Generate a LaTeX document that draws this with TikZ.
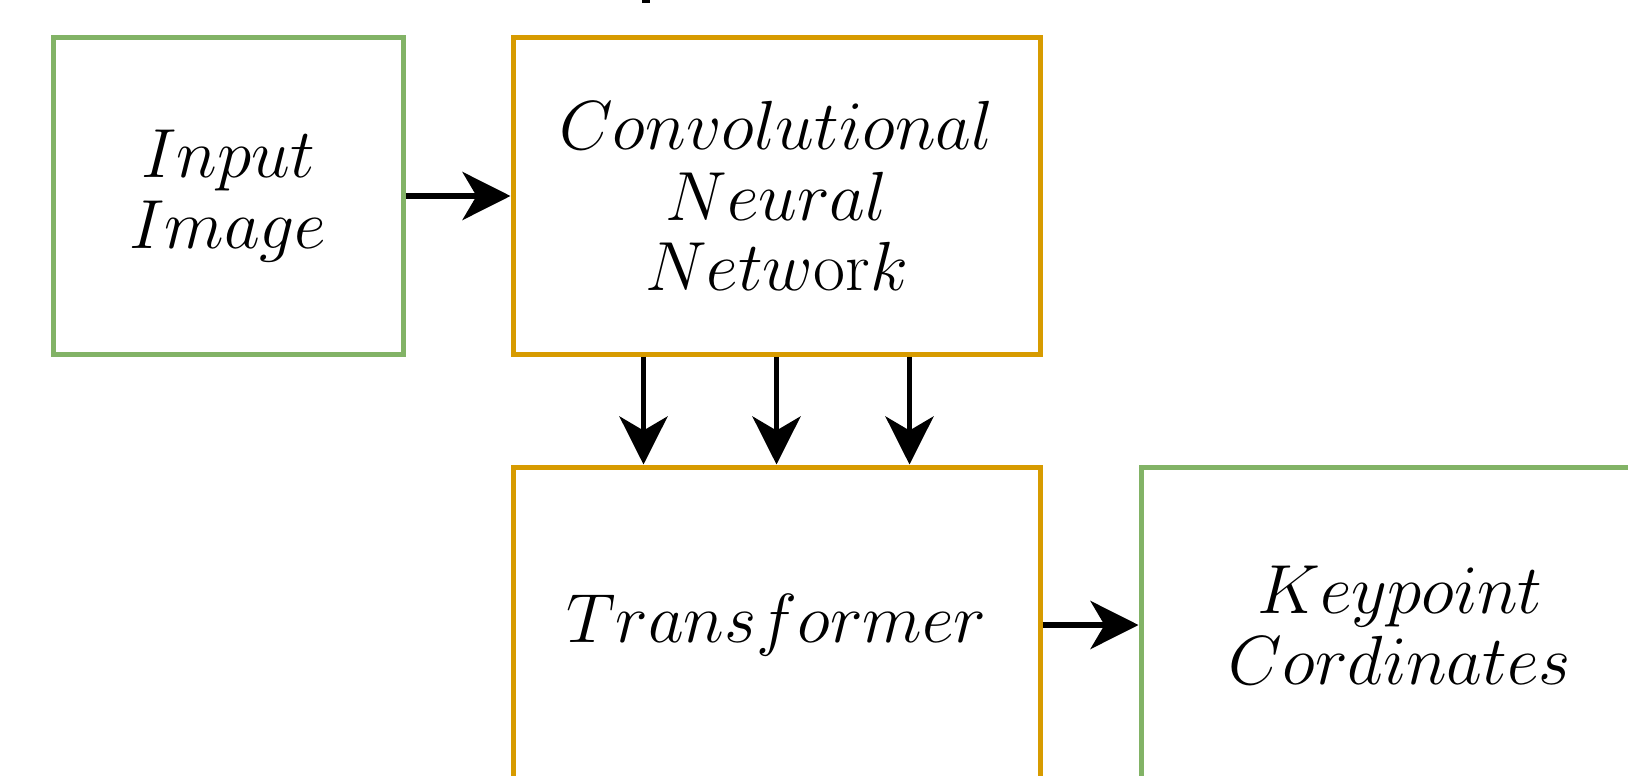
\RequirePackage{fix-cm}
\documentclass[tikz,border=0pt]{standalone}
\usetikzlibrary{arrows.meta,calc}
\definecolor{greenline}{HTML}{82B366}
\definecolor{orangeline}{HTML}{D79B00}
\tikzset{
  block/.style={draw, line width=5pt, fill=white, inner sep=0pt, align=center,
    font=\fontsize{69.5}{70.5}\selectfont},
  databox/.style={block, draw=greenline},
  procbox/.style={block, draw=orangeline},
  flow/.style={draw=black, line width=5.5pt,
    -{Stealth[length=48pt, width=48pt, inset=14pt]}},
}
\begin{document}
\begin{tikzpicture}[x=1pt, y=-1pt]
  \useasboundingbox (0,0) rectangle (1628,776);
  \clip (0,0) rectangle (1628,776);
  \fill[black] (642,0) rectangle (650,3);

  \node[databox, minimum width=350pt, minimum height=316pt] (input) at (228,196)
    {$Input$\\$Image$};
  \node[procbox, minimum width=527pt, minimum height=316pt] (cnn) at (776.5,196)
    {$Convolutional$\\$Neural$\\$Netw\mathrm{or}k$};
  \node[procbox, minimum width=527pt, minimum height=316pt] (trans) at (776.5,625)
    {$Transformer$};
  \node[databox, minimum width=518pt, minimum height=316pt] (kp) at (1400,625)
    {$Keypoint$\\$Cordinates$};

  \draw[flow] (input) -- (cnn);
  \draw[flow] (trans) -- (kp);
  \foreach \f in {0.25,0.5,0.75}
    \draw[flow] ($(cnn.south west)!\f!(cnn.south east)$)
      -- ($(trans.north west)!\f!(trans.north east)$);
\end{tikzpicture}
\end{document}
